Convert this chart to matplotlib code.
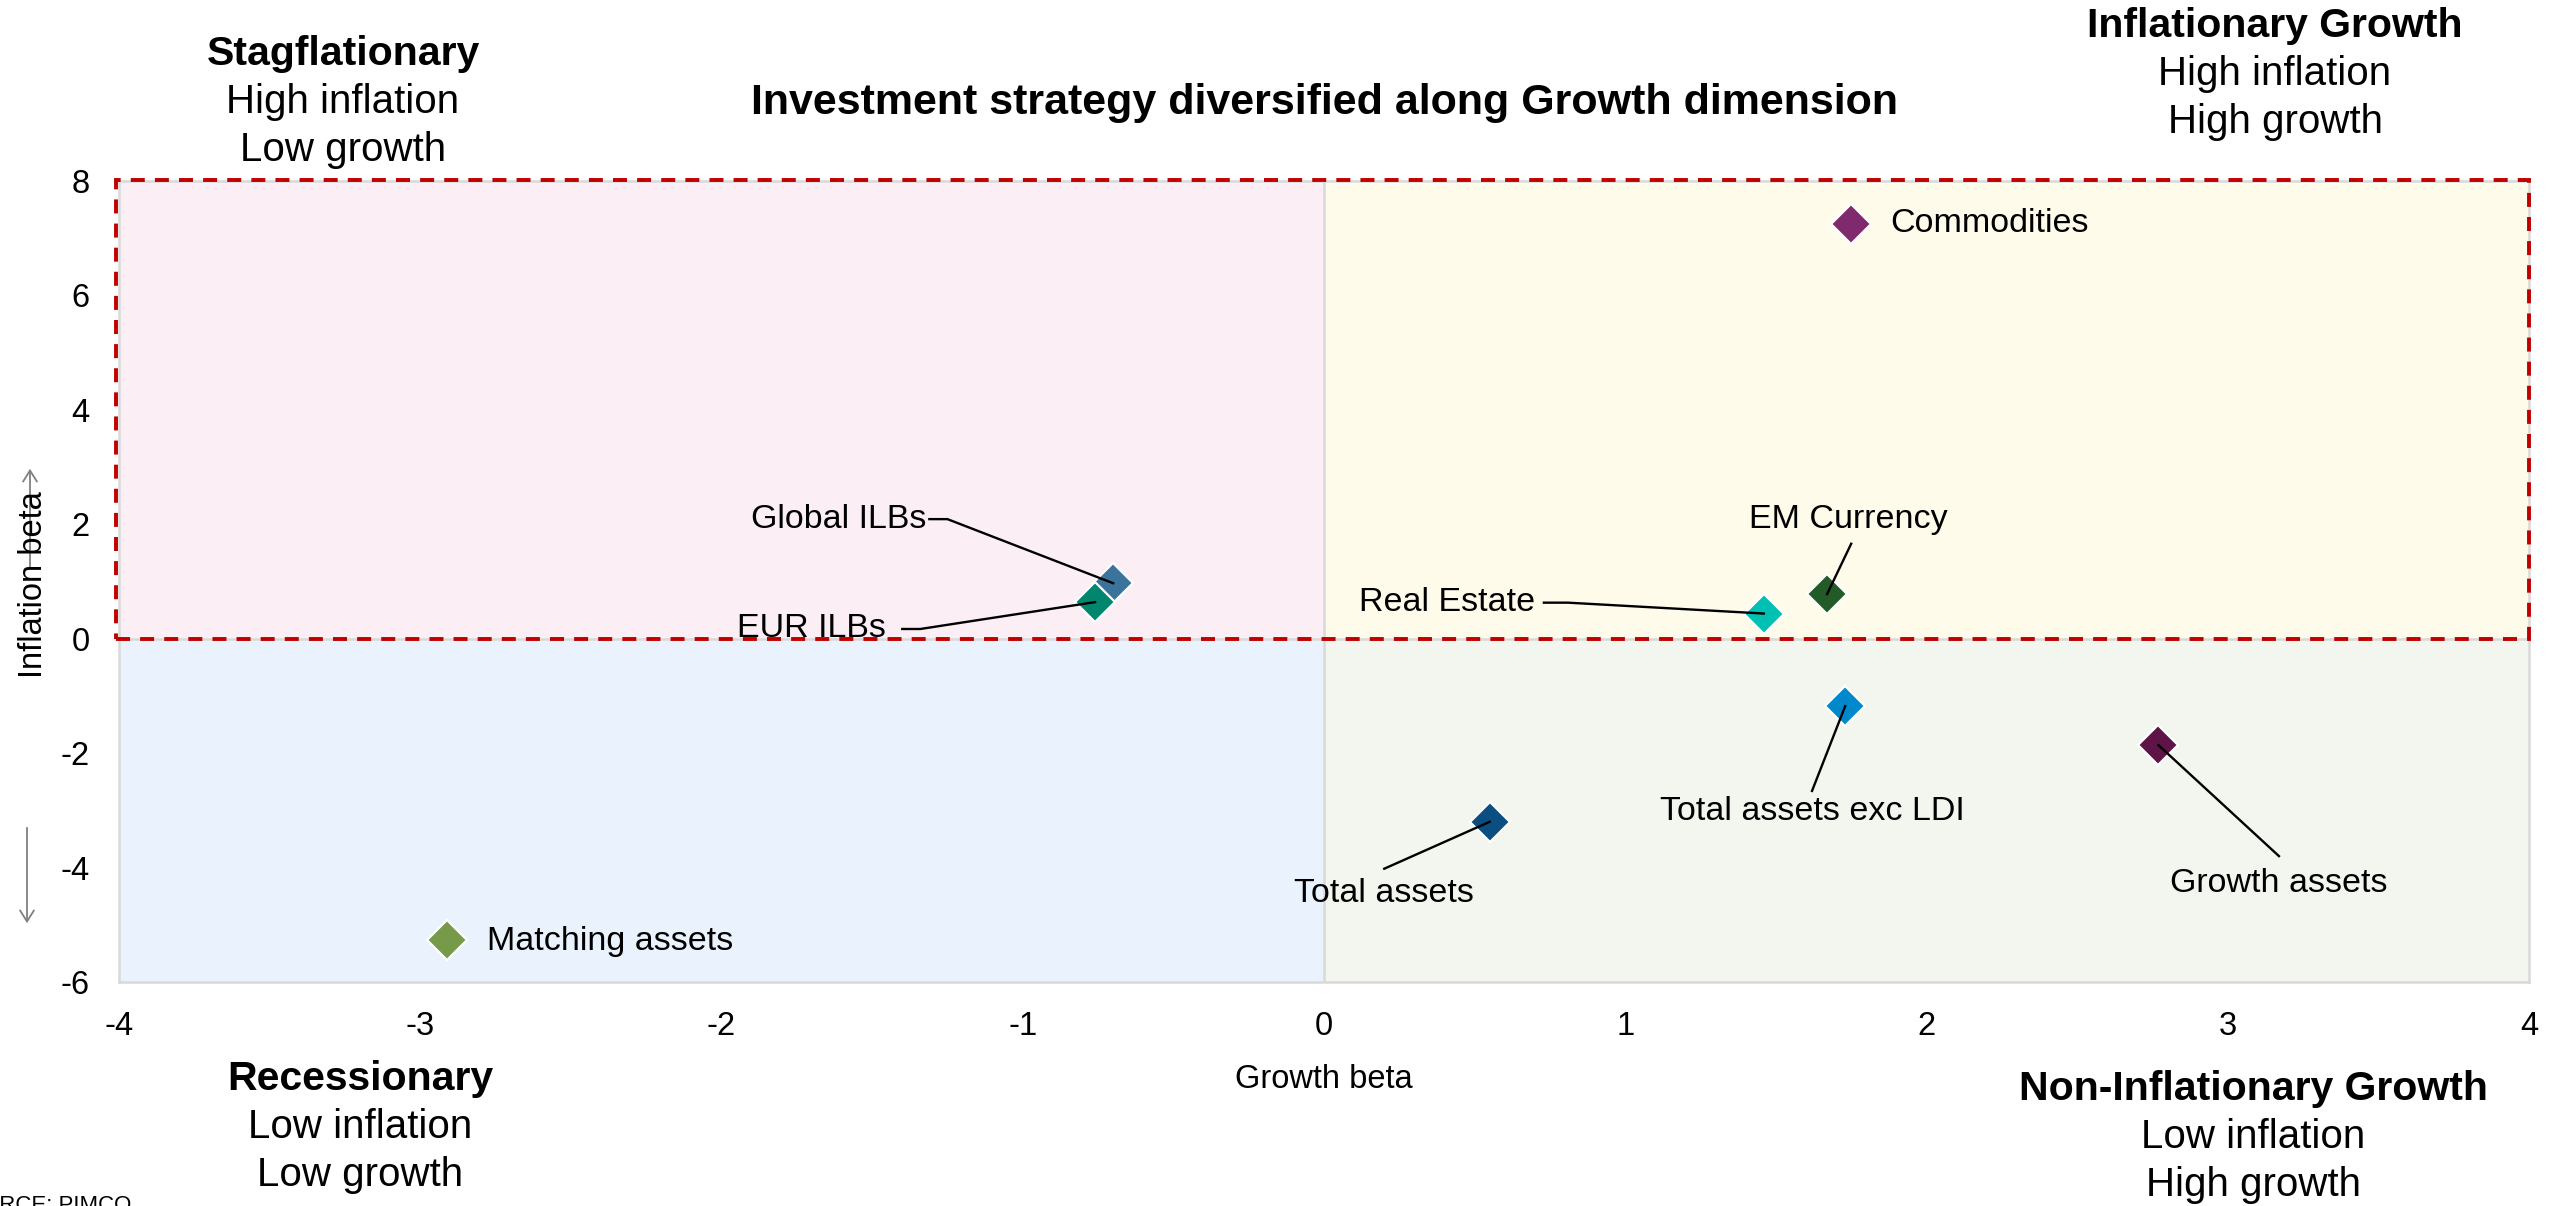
import matplotlib
matplotlib.use("Agg")
import matplotlib.pyplot as plt
from matplotlib.patches import Rectangle, FancyArrowPatch

plt.rcParams['font.family'] = ['Liberation Sans', 'DejaVu Sans']
plt.rcParams['axes.unicode_minus'] = False

# asset betas
assets = ['Commodities', 'Global ILBs', 'EUR ILBs', 'Real Estate', 'EM Currency',
          'Total assets exc LDI', 'Growth assets', 'Total assets', 'Matching assets']
growth_beta = [1.75, -0.70, -0.76, 1.46, 1.67, 1.73, 2.77, 0.55, -2.91]
inflation_beta = [7.25, 0.97, 0.64, 0.44, 0.78, -1.18, -1.86, -3.20, -5.26]
colors = ['#7E2A6C', '#3A739C', '#00866F', '#00BFB3', '#225B28',
          '#0088CC', '#5E1446', '#0B4F82', '#76994A']

# label placement: (x, y, ha, leader start or None, leader elbow or None)
label_layout = {
    'Commodities': (1.88, 7.26, 'left', None, None),
    'Global ILBs': (-1.61, 2.09, 'center', (-1.31, 2.09), (-1.25, 2.09)),
    'EUR ILBs': (-1.70, 0.17, 'center', (-1.40, 0.17), (-1.34, 0.17)),
    'Real Estate': (0.41, 0.63, 'center', (0.73, 0.63), (0.81, 0.63)),
    'EM Currency': (1.74, 2.09, 'center', (1.75, 1.66), None),
    'Total assets exc LDI': (1.62, -3.02, 'center', (1.62, -2.66), None),
    'Growth assets': (3.17, -4.27, 'center', (3.17, -3.80), None),
    'Total assets': (0.20, -4.45, 'center', (0.20, -4.02), None),
    'Matching assets': (-2.78, -5.29, 'left', None, None),
}

W, H = 2563, 1206
fig = plt.figure(figsize=(W / 100, H / 100), dpi=100)
ax = fig.add_axes([119 / W, 1 - 982 / H, (2529 - 119) / W, (982 - 181) / H])

ax.set_xlim(-4, 4)
ax.set_ylim(-6, 8)

# quadrant shading
ax.add_patch(Rectangle((-4, 0), 4, 8, facecolor='#FBEFF5', edgecolor='none', zorder=0))
ax.add_patch(Rectangle((0, 0), 4, 8, facecolor='#FEFBEB', edgecolor='none', zorder=0))
ax.add_patch(Rectangle((-4, -6), 4, 6, facecolor='#EAF3FD', edgecolor='none', zorder=0))
ax.add_patch(Rectangle((0, -6), 4, 6, facecolor='#F3F6EF', edgecolor='none', zorder=0))
ax.axvline(0, color='#D9D9D9', lw=1.8, zorder=1)
ax.axhline(0, color='#D9D9D9', lw=1.8, zorder=1)
for s in ax.spines.values():
    s.set_color('#D9D9D9')
    s.set_linewidth(1.8)

# high-inflation region outline
ax.add_patch(Rectangle((-4.01, 0), 8.01, 8.01, facecolor='none', edgecolor='#C00000',
                       lw=2.8, linestyle=(0, (3.6, 2.6)), clip_on=False, zorder=3))

ax.set_xticks(range(-4, 5))
ax.set_yticks(range(-6, 9, 2))
ax.tick_params(length=0, labelsize=23.5, pad=21)

ax.set_xlabel('Growth beta', fontsize=23.5, labelpad=16)

for name, gx, iy, c in zip(assets, growth_beta, inflation_beta, colors):
    ax.plot(gx, iy, marker='D', markersize=20, color=c, markeredgecolor='white',
            markeredgewidth=1.6, linestyle='none', zorder=5)
    tx, ty, ha, start, elbow = label_layout[name]
    ax.text(tx, ty, name, fontsize=24.5, ha=ha, va='center', zorder=6)
    if start is not None:
        pts = [start] + ([elbow] if elbow else []) + [(gx, iy)]
        ax.plot([p[0] for p in pts], [p[1] for p in pts], color='black', lw=1.7, zorder=6)

# y-axis label with direction arrows
fig.text(34 / W, 1 - 585 / H, 'Inflation beta', rotation=90, fontsize=23.5,
         ha='center', va='center')
fig.patches.append(FancyArrowPatch((30 / W, 1 - 570 / H), (30 / W, 1 - 466 / H),
                                   transform=fig.transFigure, arrowstyle='->,head_length=8,head_width=5',
                                   color='#808080', lw=1.3))
fig.patches.append(FancyArrowPatch((27 / W, 1 - 825 / H), (27 / W, 1 - 926 / H),
                                   transform=fig.transFigure, arrowstyle='->,head_length=8,head_width=5',
                                   color='#808080', lw=1.3))

fig.text(1324 / W, 1 - 103 / H, 'Investment strategy diversified along Growth dimension',
         fontsize=31, fontweight='bold', ha='center', va='center')

quadrants = [
    (343, 54, 'Stagflationary', ['High inflation', 'Low growth']),
    (2275, 26, 'Inflationary Growth', ['High inflation', 'High growth']),
    (360, 1079, 'Recessionary', ['Low inflation', 'Low growth']),
    (2253, 1089, 'Non-Inflationary Growth', ['Low inflation', 'High growth']),
]
for qx, qy, head, lines in quadrants:
    fig.text(qx / W, 1 - qy / H, head, fontsize=29.5, fontweight='bold', ha='center', va='center')
    for k, ln in enumerate(lines):
        fig.text(qx / W, 1 - (qy + 48 * (k + 1)) / H, ln, fontsize=29, ha='center', va='center')

fig.text(-49 / W, 1 - 1195 / H, 'SOURCE: PIMCO', fontsize=16, ha='left', va='top')

fig.savefig('out.png', dpi=100)
